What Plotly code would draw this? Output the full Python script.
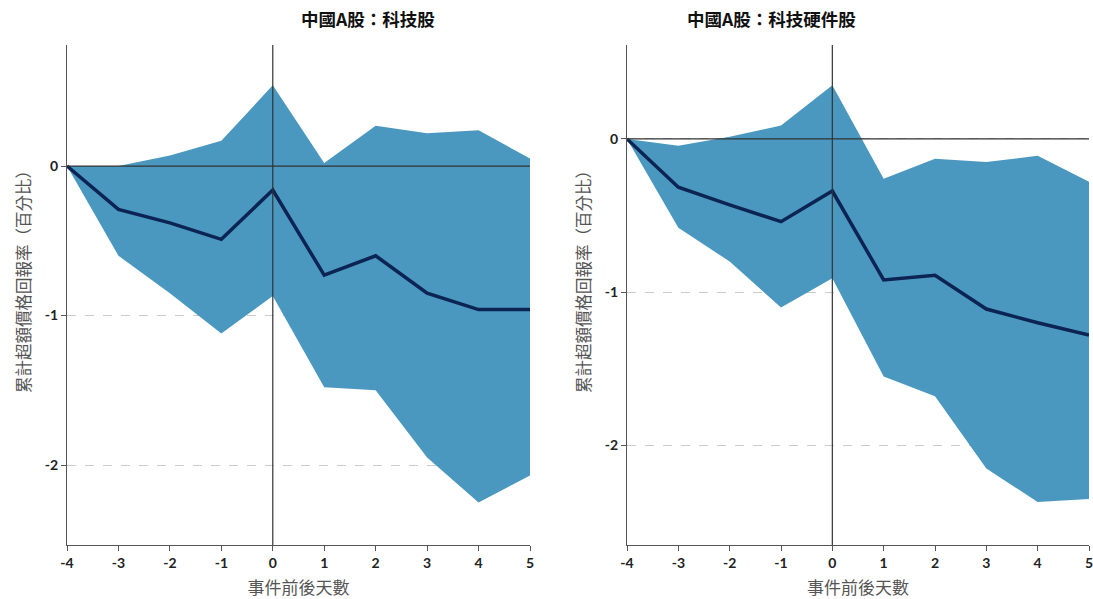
import plotly.graph_objects as go

days = [-4, -3, -2, -1, 0, 1, 2, 3, 4, 5]

# Panel 1: 科技股
tech_mean = [0, -0.29, -0.38, -0.49, -0.16, -0.73, -0.60, -0.85, -0.96, -0.96]
tech_upper = [0, 0.0, 0.07, 0.17, 0.54, 0.02, 0.27, 0.22, 0.24, 0.05]
tech_lower = [0, -0.60, -0.85, -1.12, -0.87, -1.48, -1.50, -1.95, -2.25, -2.07]

# Panel 2: 科技硬件股
hw_mean = [0, -0.315, -0.43, -0.54, -0.34, -0.92, -0.89, -1.11, -1.20, -1.28]
hw_upper = [0, -0.045, 0.015, 0.087, 0.35, -0.26, -0.13, -0.15, -0.11, -0.28]
hw_lower = [0, -0.58, -0.80, -1.10, -0.91, -1.55, -1.68, -2.15, -2.37, -2.35]

titles = ["中國A股：科技股", "中國A股：科技硬件股"]
x_title = "事件前後天數"
y_title = "累計超額價格回報率（百分比）"
y_ticks = [0, -1, -2]
y_ranges = [[-2.535, 0.81], [-2.65, 0.613]]

FILL = "#4a98c0"
LINE = "#0b2454"
CJK = "Noto Sans CJK TC"
AX = "#555555"

W, H = 1093, 599
L, R, T, B = 67, 4, 45, 54
PW, PH = W - L - R, H - T - B
domains = [[0, (530 - L) / PW], [(627 - L) / PW, 1]]
ytitle_px = [23, 583]

fig = go.Figure()
panels = [(tech_mean, tech_upper, tech_lower), (hw_mean, hw_upper, hw_lower)]
for i, (m, u, lo) in enumerate(panels, start=1):
    xa = "x" if i == 1 else "x2"
    ya = "y" if i == 1 else "y2"
    fig.add_trace(go.Scatter(x=days, y=lo, mode="lines", line=dict(width=0, color=FILL),
                             showlegend=False, hoverinfo="skip", xaxis=xa, yaxis=ya))
    fig.add_trace(go.Scatter(x=days, y=u, mode="lines", line=dict(width=0, color=FILL),
                             fill="tonexty", fillcolor=FILL, showlegend=False,
                             hoverinfo="skip", xaxis=xa, yaxis=ya))
    fig.add_trace(go.Scatter(x=days, y=m, mode="lines", line=dict(width=3.5, color=LINE),
                             showlegend=False, xaxis=xa, yaxis=ya))
    fig.add_shape(type="line", xref=xa, yref=ya, x0=-4, x1=5, y0=0, y1=0,
                  line=dict(color="#333333", width=1.2), layer="above")
    fig.add_shape(type="line", xref=xa, yref=ya + " domain", x0=0, x1=0, y0=0, y1=1,
                  line=dict(color="#333333", width=1.2), layer="above")

    xkw = dict(domain=domains[i - 1], anchor=ya, range=[-4, 5], tickvals=days,
               ticktext=[str(d) for d in days], automargin=False,
               ticklabeloverflow="allow",
               showgrid=False, zeroline=False, showline=True, linecolor=AX,
               linewidth=1.2, ticks="outside", ticklen=5, tickcolor=AX,
               tickfont=dict(family="Lato", size=14, color="#222222", weight="bold"),
               title=dict(text=x_title, font=dict(family=CJK, size=17, color="#555555"),
                          standoff=14))
    ykw = dict(domain=[0, 1], anchor=xa, range=y_ranges[i - 1], tickvals=y_ticks,
               ticktext=[str(t) for t in y_ticks], automargin=False,
               showgrid=True, gridcolor="#cccccc", griddash="dash", gridwidth=1,
               zeroline=False, showline=True, linecolor=AX, linewidth=1.2,
               ticks="outside", ticklen=5, tickcolor=AX,
               tickfont=dict(family="Lato", size=14, color="#222222", weight="bold"))
    if i == 1:
        fig.update_layout(xaxis=xkw, yaxis=ykw)
    else:
        fig.update_layout(xaxis2=xkw, yaxis2=ykw)

    fig.add_annotation(text=y_title, textangle=-90, xref="paper", yref="paper",
                       x=(ytitle_px[i - 1] - L) / PW, y=(H - B - 278) / PH,
                       xanchor="center", yanchor="middle", showarrow=False,
                       font=dict(family=CJK, size=16.5, color="#555555"))

for i, t in enumerate(titles):
    dom = domains[i]
    fig.add_annotation(text=t, xref="paper", yref="paper", x=(dom[0] + dom[1]) / 2,
                       y=1, yshift=T - 4, yanchor="top", showarrow=False,
                       font=dict(family=CJK, size=17.5, color="#111111", weight="bold"))

fig.update_layout(width=W, height=H, margin=dict(l=L, r=R, t=T, b=B),
                  plot_bgcolor="white", paper_bgcolor="white")
fig.write_html("out.html", config={"displayModeBar": False},
               post_script="document.body.style.margin='0';")
